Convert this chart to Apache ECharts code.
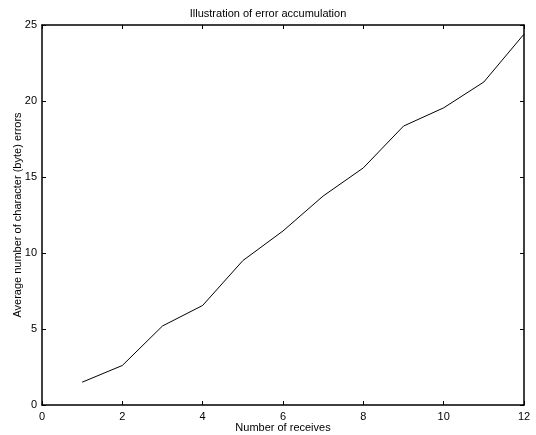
<!DOCTYPE html>
<html><head><meta charset="utf-8">
<script src="https://cdn.jsdelivr.net/npm/echarts@6/dist/echarts.min.js"></script>
<style>html,body{margin:0;padding:0;background:#fff}#c{width:536px;height:435px}</style>
</head><body><div id="c"></div>
<script>
const receives = [1,2,3,4,5,6,7,8,9,10,11,12];
const avgErrors = [1.5, 2.6, 5.2, 6.55, 9.5, 11.45, 13.75, 15.6, 18.35, 19.55, 21.25, 24.4];
const xTicks = [0,2,4,6,8,10,12];
const yTicks = [0,5,10,15,20,25];
const titleText = 'Illustration of error accumulation';
const xName = 'Number of receives';
const yName = 'Average number of character (byte) errors';

const font = 'Liberation Sans, Arial, Helvetica, sans-serif';
const chart = echarts.init(document.getElementById('c'));
const axLine = {show:true, onZero:false, lineStyle:{color:'#000', width:1.5}};
const tick = {show:true, inside:true, length:4, lineStyle:{color:'#000', width:1}};
chart.setOption({
  animation:false,
  title:{text:titleText, left:'center', top:3, textStyle:{fontFamily:font, fontSize:11, fontWeight:'normal', color:'#000'}},
  grid:{left:42, right:12, top:25, bottom:30, containLabel:false, outerBoundsMode:'none'},
  xAxis:[
    {type:'value', min:xTicks[0], max:xTicks[xTicks.length-1], interval:2, position:'bottom',
     name:xName, nameLocation:'middle', nameGap:17, nameMoveOverlap:false, nameTextStyle:{fontFamily:font, fontSize:11, color:'#000'},
     axisLine:axLine, axisTick:tick, splitLine:{show:false},
     axisLabel:{fontFamily:font, fontSize:11, color:'#000', margin:6}},
    {type:'value', min:xTicks[0], max:xTicks[xTicks.length-1], interval:2, position:'top',
     axisLine:axLine, axisTick:tick, splitLine:{show:false}, axisLabel:{show:false}}
  ],
  yAxis:[
    {type:'value', min:yTicks[0], max:yTicks[yTicks.length-1], interval:5, position:'left',
     name:yName, nameLocation:'middle', nameGap:19, nameMoveOverlap:false, nameTextStyle:{fontFamily:font, fontSize:11, color:'#000'},
     axisLine:axLine, axisTick:tick, splitLine:{show:false},
     axisLabel:{fontFamily:font, fontSize:11, color:'#000', margin:5}},
    {type:'value', min:yTicks[0], max:yTicks[yTicks.length-1], interval:5, position:'right',
     axisLine:axLine, axisTick:tick, splitLine:{show:false}, axisLabel:{show:false}}
  ],
  series:[{type:'line', data:receives.map((x,i)=>[x, avgErrors[i]]), symbol:'none',
    lineStyle:{color:'#000', width:1}, xAxisIndex:0, yAxisIndex:0}]
});
</script></body></html>
